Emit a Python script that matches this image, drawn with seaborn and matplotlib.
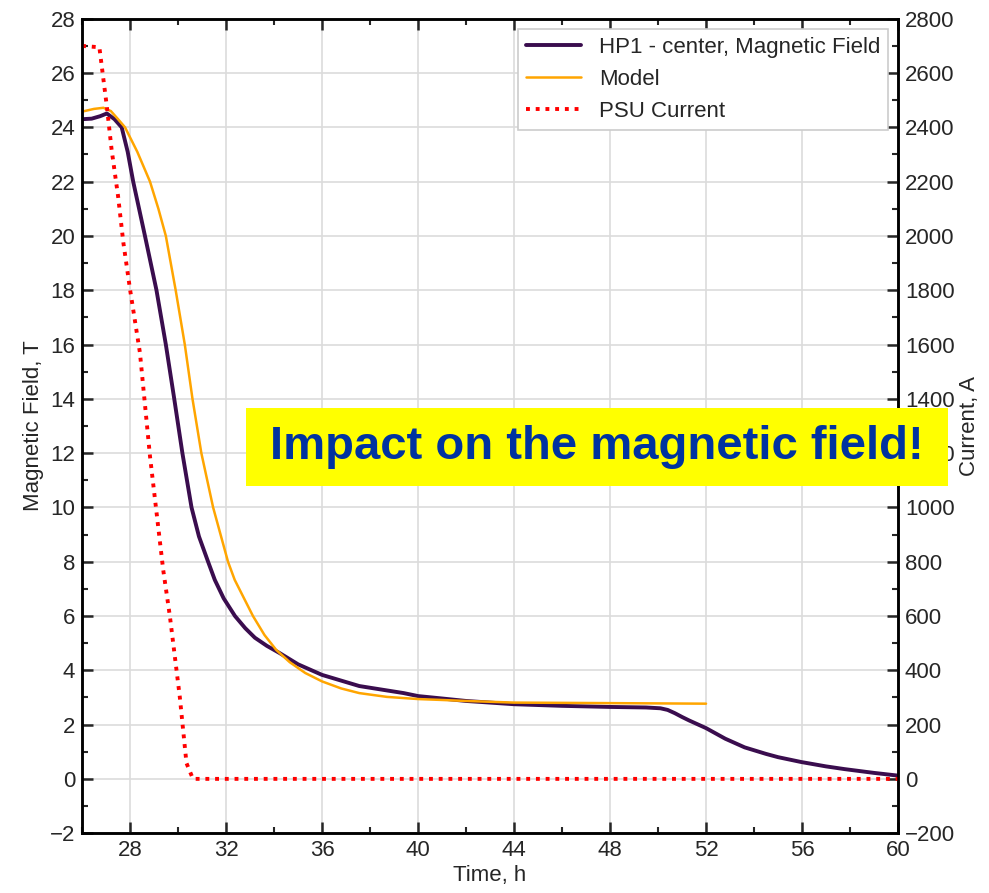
import matplotlib
matplotlib.use('Agg')
import matplotlib.pyplot as plt
import seaborn as sns
from matplotlib.ticker import MultipleLocator
from matplotlib.patches import Rectangle

# ---- data ----
hp1_t = [26.0, 26.4, 26.75, 27.03, 27.35, 27.65, 27.9, 28.13, 28.62, 29.1, 29.49, 29.84,
         30.18, 30.56, 30.87, 31.25, 31.53, 31.9, 32.37, 32.8, 33.2, 33.7, 34.24,
         35.0, 36.0, 37.55, 39.4, 40.0, 40.9, 42.0, 44.0, 46.0, 48.0, 49.5, 50.1, 50.4, 50.7,
         51.0, 51.3, 52.0, 52.8, 53.61, 54.5, 55.0, 55.97, 57.0, 57.77, 59.0, 60.0]
hp1_b = [24.3, 24.32, 24.41, 24.51, 24.3, 24.0, 23.1, 22.0, 20.0, 18.0, 16.0, 14.0,
         12.0, 10.0, 8.93, 8.0, 7.33, 6.65, 6.0, 5.55, 5.2, 4.9, 4.63,
         4.22, 3.83, 3.42, 3.16, 3.05, 2.97, 2.87, 2.75, 2.69, 2.65, 2.63, 2.6, 2.54, 2.42,
         2.28, 2.15, 1.87, 1.48, 1.16, 0.92, 0.8, 0.62, 0.46, 0.36, 0.22, 0.12]

model_t = [26.0, 26.5, 26.89, 27.2, 27.5, 27.79, 28.3, 28.83, 29.18, 29.49, 29.9, 30.28,
           30.6, 30.97, 31.46, 32.08, 32.36, 33.12, 33.6, 34.09, 34.65, 35.3, 36.0, 36.8,
           37.55, 38.7, 40.0, 40.9, 42.0, 44.0, 48.0, 52.0]
model_b = [24.58, 24.68, 24.72, 24.6, 24.3, 24.0, 23.1, 22.0, 21.0, 20.0, 18.0, 16.0,
           14.0, 12.0, 10.0, 8.0, 7.33, 6.0, 5.3, 4.75, 4.3, 3.9, 3.59, 3.33,
           3.16, 3.02, 2.94, 2.91, 2.87, 2.81, 2.79, 2.77]

psu_t = [26.0, 26.72, 27.03, 27.23, 27.5, 27.72, 28.0, 28.41, 28.83, 29.38, 29.66, 30.07,
         30.35, 30.62, 45.0, 60.0]
psu_i = [2700, 2695, 2478, 2318, 2146, 1975, 1802, 1570, 1188, 770, 598, 303,
         58, 0, 0, 0]

labels = ["HP1 - center, Magnetic Field", "Model", "PSU Current"]
x_ticks = [28, 32, 36, 40, 44, 48, 52, 56, 60]
annotation = "Impact on the magnetic field!"

# ---- style ----
sns.set_style('white')
plt.rcParams['font.family'] = ['Liberation Sans', 'DejaVu Sans']
FS = 16

fig = plt.figure(figsize=(9.89, 8.93), dpi=100)
ax = fig.add_axes([0.083, 0.067, 0.825, 0.912])
ax2 = ax.twinx()

sns.lineplot(x=hp1_t, y=hp1_b, ax=ax, color='#3a0d4e', lw=2.8, label=labels[0], legend=False)
sns.lineplot(x=model_t, y=model_b, ax=ax, color='#ffa500', lw=1.8, label=labels[1], legend=False)
sns.lineplot(x=psu_t, y=psu_i, ax=ax2, color='#ff0000', lw=2.8, linestyle=(0, (1, 1.5)),
             label=labels[2], legend=False)

ax.set_xlim(26, 60)
ax.set_ylim(-2, 28)
ax2.set_ylim(-200, 2800)

ax.set_xticks(x_ticks)
ax.xaxis.set_minor_locator(MultipleLocator(2))
ax.yaxis.set_major_locator(MultipleLocator(2))
ax.yaxis.set_minor_locator(MultipleLocator(1))
ax2.yaxis.set_major_locator(MultipleLocator(200))
ax2.yaxis.set_minor_locator(MultipleLocator(100))

ax.grid(True, which='major', color='#dcdcdc', lw=1.2)
ax.set_axisbelow(True)

ax.tick_params(axis='both', which='major', direction='in', length=8, width=1.8,
               labelsize=FS, top=True, bottom=True, left=True, right=False, pad=5)
ax.tick_params(axis='both', which='minor', direction='in', length=4.5, width=1.5,
               top=True, bottom=True, left=True, right=False)
ax2.tick_params(axis='y', which='major', direction='in', length=8, width=1.8,
                labelsize=FS, pad=5)
ax2.tick_params(axis='y', which='minor', direction='in', length=4.5, width=1.5)

for a in (ax, ax2):
    for s in a.spines.values():
        s.set_linewidth(1.8)
        s.set_color('black')

ax.set_xlabel('Time, h', fontsize=FS, labelpad=3)
ax.set_ylabel('Magnetic Field, T', fontsize=FS, labelpad=4)
ax2.set_ylabel('Current, A', fontsize=FS, labelpad=3)

h1, l1 = ax.get_legend_handles_labels()
h2, l2 = ax2.get_legend_handles_labels()
leg = ax2.legend(h1 + h2, l1 + l2, loc='upper right', fontsize=FS, frameon=True,
                 fancybox=False, edgecolor='#cccccc', framealpha=1,
                 borderaxespad=0.45, handlelength=2.5, labelspacing=0.5, borderpad=0.35)
leg.get_frame().set_linewidth(1.2)

# yellow annotation box
fig.add_artist(Rectangle((0.2487, 0.4558), 0.7098, 0.0873, transform=fig.transFigure,
                         facecolor='#ffff00', edgecolor='none', zorder=10))
fig.text(0.6036, 0.4994, annotation, transform=fig.transFigure, ha='center', va='center',
         fontsize=34, fontweight='bold', color='#0033a0', zorder=11,
         family=['Liberation Sans Narrow', 'Liberation Sans'])

fig.savefig('out.png', dpi=100)
